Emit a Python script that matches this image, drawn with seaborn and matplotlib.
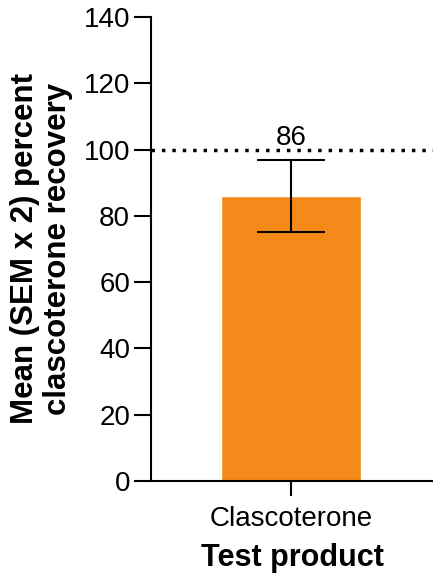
import matplotlib
matplotlib.use("Agg")
import matplotlib.pyplot as plt
import seaborn as sns
import pandas as pd

categories = ["Clascoterone"]
mean_values = [86]
sem2_values = [11]
value_labels = ["86"]
reference_level = 100
y_ticks = [0, 20, 40, 60, 80, 100, 120, 140]

sns.set_style("ticks")
plt.rcParams["font.family"] = ["Liberation Sans", "DejaVu Sans"]
plt.rcParams["text.color"] = "black"
plt.rcParams["axes.labelcolor"] = "black"

df = pd.DataFrame({"product": categories, "recovery": mean_values})

fig = plt.figure(figsize=(4.33, 5.82), dpi=100)
ax = fig.add_axes([151 / 433, 1 - 481 / 582, 1 - 151 / 433, (481 - 17) / 582])

sns.barplot(data=df, x="product", y="recovery", color="#F58A1B",
            saturation=1, width=1.0, errorbar=None, ax=ax)
ax.errorbar(x=list(range(len(categories))), y=mean_values, yerr=sem2_values,
            fmt="none", ecolor="black", elinewidth=1.5, capsize=24.5,
            capthick=1.5, zorder=4)
ax.axhline(reference_level, color="black", lw=2.5, linestyle=(0, (1, 2)),
           zorder=3)
for i, lab in enumerate(value_labels):
    ax.text(i, reference_level + 1.3, lab, ha="center", va="baseline",
            fontsize=20, color="black")

ax.set_ylim(0, 140)
ax.set_xlim(-1, 1.014)
ax.set_yticks(y_ticks)
ax.tick_params(axis="both", labelsize=20, width=1.5, length=12, pad=3,
               color="black", labelcolor="black")
ax.tick_params(axis="x", length=11, pad=7)
for s in ["top", "right"]:
    ax.spines[s].set_visible(False)
for s in ["left", "bottom"]:
    ax.spines[s].set_linewidth(1.5)
    ax.spines[s].set_color("black")

ax.set_xlabel("Test product", fontsize=22, fontweight="bold", labelpad=8,
              color="black")
ax.set_ylabel("Mean (SEM x 2) percent\nclascoterone recovery", fontsize=22.5,
              fontweight="bold", labelpad=8, linespacing=1.1, color="black")

fig.savefig("out.png", dpi=100)
